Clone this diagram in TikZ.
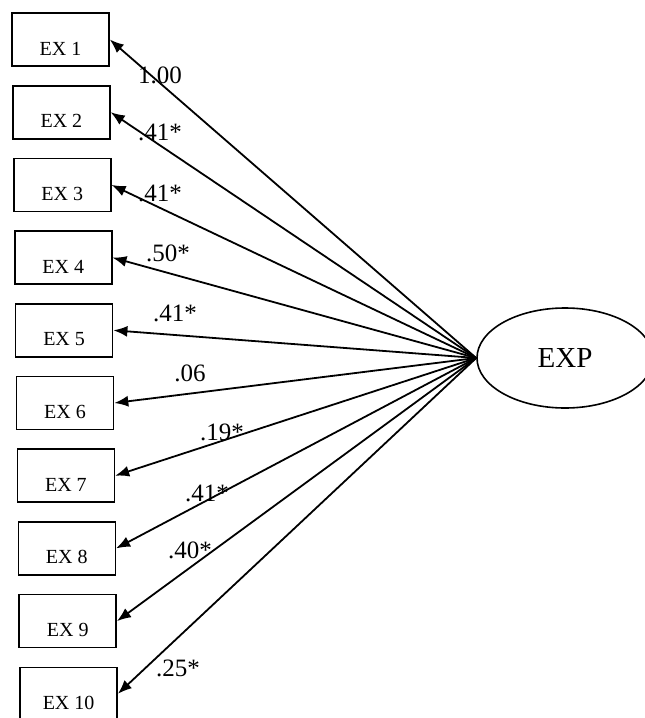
\documentclass[tikz,border=0pt]{standalone}
\usepackage{fontspec}
\setmainfont{Liberation Serif}
\usetikzlibrary{arrows.meta,shapes.geometric}
\begin{document}
\begin{tikzpicture}[x=1pt,y=-1pt,
 obs/.style={draw, line width=1.6pt, minimum width=97pt, inner xsep=0pt, inner ysep=0pt, text height=42pt, text depth=11pt, font=\fontsize{20}{20}\selectfont},
 lat/.style={draw, ellipse, line width=1.6pt, minimum width=176pt, minimum height=100pt, inner sep=0pt, font=\fontsize{29}{29}\selectfont},
 load/.style={line width=1.8pt, -{Latex[length=14pt,width=11pt]}},
 coef/.style={font=\fontsize{25}{25}\selectfont, inner sep=0pt}]
\useasboundingbox (0,0) rectangle (645,718);
\fill[white] (0,0) rectangle (645,718);
\foreach \i in {1,...,10} {
  \node[obs] (ex\i) at ({60.5+(\i-1)*0.9},{39.5+(\i-1)*72.7}) {EX \i};
}
\node[lat] (exp) at (565,358) {EXP};
\foreach \i in {1,...,10} {
  \draw[load] (exp.west) -- (ex\i.east);
}
\node[coef] (c1) at (160,75) {1.00};
\node[coef] (c2) at (160,132) {.41*};
\node[coef] (c3) at (160,193) {.41*};
\node[coef] (c4) at (168,253) {.50*};
\node[coef] (c5) at (175,313) {.41*};
\node[coef] (c6) at (190,373) {.06};
\node[coef] (c7) at (222,432) {.19*};
\node[coef] (c8) at (207,493) {.41*};
\node[coef] (c9) at (190,550) {.40*};
\node[coef] (c10) at (178,668) {.25*};
\end{tikzpicture}
\end{document}
